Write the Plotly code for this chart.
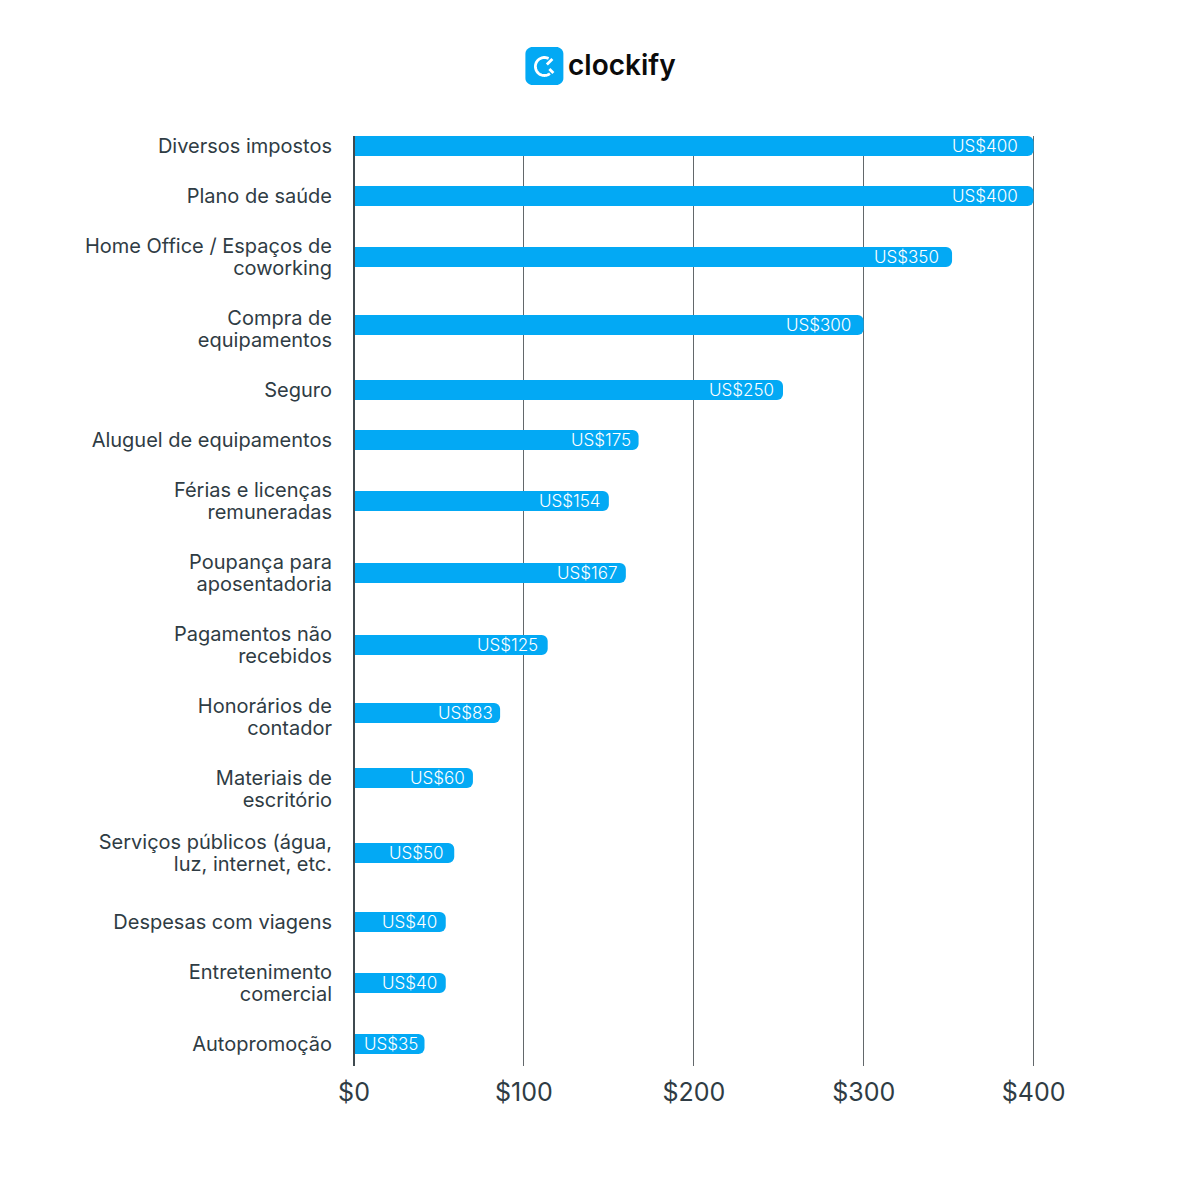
import numpy as np
import plotly.graph_objects as go

# Rótulos das categorias, de cima para baixo ("|" = quebra de linha)
categories = [
    "Diversos impostos",
    "Plano de saúde",
    "Home Office / Espaços de|coworking",
    "Compra de|equipamentos",
    "Seguro",
    "Aluguel de equipamentos",
    "Férias e licenças|remuneradas",
    "Poupança para|aposentadoria",
    "Pagamentos não|recebidos",
    "Honorários de|contador",
    "Materiais de|escritório",
    "Serviços públicos (água,|luz, internet, etc.",
    "Despesas com viagens",
    "Entretenimento|comercial",
    "Autopromoção",
]
# the drawn bar lengths do not follow the printed labels in the original
bar_lengths = [400, 400, 352, 300, 252.5, 167.5, 150, 160, 114, 86, 70, 59, 54, 54, 41.5]
bar_labels = ["US$400", "US$400", "US$350", "US$300", "US$250", "US$175", "US$154", "US$167",
              "US$125", "US$83", "US$60", "US$50", "US$40", "US$40", "US$35"]
x_ticks = [0, 100, 200, 300, 400]
x_tick_labels = ["$0", "$100", "$200", "$300", "$400"]

# layout stuff
WIDTH, HEIGHT = 1200, 1187
X_MAX = 402  # a bit past 400, plotly drops a gridline sitting on the plot edge
PLOT_L, PLOT_R, PLOT_T, PLOT_B = 353.5, 353.5 + 1.7 * X_MAX, 136, 1066
ROW_GAPS = [50, 61, 68, 65, 50, 61, 72, 72, 68, 65, 75, 69, 61, 61]  # uneven in the original
LABEL_SHIFTS = [0, 0, 0, 4, 0, 0, 0, 0, 0, 4, 11, 0, 0, 0, 0]  # some labels sit off their bar
LABEL_PADS = [15, 15, 12, 12, 8, 7, 8, 8, 9, 6, 7, 9, 8, 8, 6]
LINE_STEP = 22
BAR_BLUE = "#03a9f4"
TEXT_DARK = "#2f3c44"
FONT_FAMILY = "Inter, Arial, sans-serif"

# y axis is in pixels of the plot area, so rows can be spaced like the original
row_pos = np.concatenate([[10], 10 + np.cumsum(ROW_GAPS)])


def px_x(x):
    return (x - PLOT_L) / (PLOT_R - PLOT_L)


def px_y(y):
    return (PLOT_B - y) / (PLOT_B - PLOT_T)


def path_from(points, close=False):
    parts = [f"{'M' if i == 0 else 'L'}{px_x(x):.5f},{px_y(y):.5f}" for i, (x, y) in enumerate(points)]
    return " ".join(parts) + (" Z" if close else "")


def rounded_square(x0, y0, x1, y1, r):
    pts = []
    corners = [(x1 - r, y0 + r, -90), (x1 - r, y1 - r, 0), (x0 + r, y1 - r, 90), (x0 + r, y0 + r, 180)]
    for cx, cy, start in corners:
        for a in np.radians(np.linspace(start, start + 90, 10)):
            pts.append((cx + r * np.cos(a), cy + r * np.sin(a)))
    return pts


# every line of a label gets its own tick: plotly's <br> spacing is too wide here
tick_vals, tick_text = [], []
for pos, cat, shift in zip(row_pos, categories, LABEL_SHIFTS):
    lines = cat.split("|")
    offset = -(len(lines) - 1) * LINE_STEP / 2 + shift
    for i, line in enumerate(lines):
        tick_vals.append(pos + offset + i * LINE_STEP)
        tick_text.append(line)

fig = go.Figure()
fig.add_trace(go.Bar(
    x=bar_lengths,
    y=row_pos,
    orientation="h",
    width=20,
    marker=dict(color=BAR_BLUE, cornerradius=6, line=dict(width=0)),
    hoverinfo="skip",
))

for pos, length, label, pad in zip(row_pos, bar_lengths, bar_labels, LABEL_PADS):
    fig.add_annotation(
        x=length, y=pos, text=label, showarrow=False,
        xanchor="right", yanchor="middle", xshift=-pad + 1,
        font=dict(family=FONT_FAMILY, size=17, color="white", weight=300),
    )

# baseline on top of the bars, paper ref so it is not clipped at the plot edge
fig.add_shape(type="line", xref="paper", yref="paper", x0=0, x1=0, y0=0, y1=1,
              line=dict(color="#3f4a50", width=2), layer="above")

# logo
arc = [(544 + 9 * np.cos(a), 66.5 + 9 * np.sin(a)) for a in np.radians(np.linspace(-62, -308, 40))]
fig.add_shape(type="path", xref="paper", yref="paper", line_width=0, fillcolor=BAR_BLUE,
              path=path_from(rounded_square(525, 47, 563, 85, 7), close=True))
fig.add_shape(type="path", xref="paper", yref="paper", line=dict(color="white", width=2.8),
              path=path_from(arc))
fig.add_shape(type="path", xref="paper", yref="paper", line=dict(color="white", width=2.8),
              path=path_from([(552, 59), (546.5, 64.5)]))
fig.add_shape(type="path", xref="paper", yref="paper", line=dict(color="white", width=2.8),
              path=path_from([(549, 69), (553, 73)]))
fig.add_annotation(
    xref="paper", yref="paper", x=px_x(622), y=px_y(65), text="clockify", showarrow=False,
    xanchor="center", yanchor="middle",
    font=dict(family=FONT_FAMILY, size=28, color="#0b0b0b", weight=600),
)

fig.update_layout(
    width=WIDTH,
    height=HEIGHT,
    autosize=False,
    paper_bgcolor="white",
    plot_bgcolor="white",
    showlegend=False,
    font=dict(family=FONT_FAMILY, color=TEXT_DARK),
    margin=dict(l=PLOT_L, r=WIDTH - PLOT_R, t=PLOT_T, b=HEIGHT - PLOT_B, pad=0),
)
fig.update_xaxes(
    range=[0, X_MAX],
    tickvals=x_ticks,
    ticktext=x_tick_labels,
    tickfont=dict(size=25, color=TEXT_DARK),
    showgrid=True,
    gridcolor="#63686b",
    gridwidth=1,
    zeroline=False,
    showline=False,
    ticks="",
    ticklabelstandoff=9,
)
fig.update_yaxes(
    range=[PLOT_B - PLOT_T, 0],
    tickmode="array",
    tickvals=tick_vals,
    ticktext=tick_text,
    tickfont=dict(size=20, color=TEXT_DARK),
    showgrid=False,
    zeroline=False,
    showline=False,
    ticks="",
    ticklabelstandoff=21,
)

fig.write_html("out.html", config=dict(displayModeBar=False),
               post_script="document.body.style.margin='0';")
